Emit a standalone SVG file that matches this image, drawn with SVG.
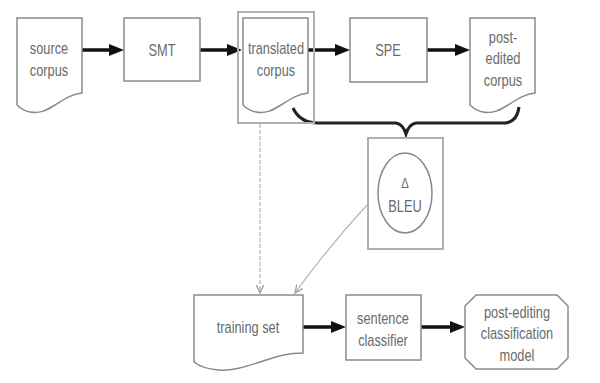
<svg xmlns="http://www.w3.org/2000/svg" width="600" height="383" viewBox="0 0 600 383">
<style>
.shape{fill:#fff;stroke:#8a8a8a;stroke-width:1.5}
.outer{fill:none;stroke:#b0b0b0;stroke-width:2}
.t{font-family:"Liberation Sans",Arial,sans-serif;font-size:16px;fill:#6a6a6a;text-anchor:middle}
.line{stroke:#111;stroke-width:3.5;fill:none}
.head{fill:#111}
.thin{stroke:#b5b5b5;stroke-width:1.2;fill:none;marker-end:url(#sh)}
.brace{stroke:#222;stroke-width:3;fill:none}
</style>
<defs>
<marker id="sh" viewBox="0 0 10 10" refX="9" refY="5" markerWidth="9" markerHeight="9" orient="auto" markerUnits="userSpaceOnUse">
<path d="M0,1 L9,5 L0,9" fill="none" stroke="#a0a0a0" stroke-width="1.5"/>
</marker>
</defs>
<rect width="600" height="383" fill="#fff"/>
<g id="connectors">
<line class="line" x1="81" y1="50" x2="112" y2="50"/>
<path class="head" d="M109,44 L124,50 L109,56 Z"/>
<line class="line" x1="200" y1="50" x2="230" y2="50"/>
<path class="head" d="M227,44 L242,50 L227,56 Z"/>
<line class="line" x1="308" y1="50" x2="338" y2="50"/>
<path class="head" d="M335,44 L350,50 L335,56 Z"/>
<line class="line" x1="427" y1="50" x2="458" y2="50"/>
<path class="head" d="M455,44 L470,50 L455,56 Z"/>
<line class="line" x1="303" y1="327" x2="334" y2="327"/>
<path class="head" d="M331,321 L346,327 L331,333 Z"/>
<line class="line" x1="421" y1="327" x2="453" y2="327"/>
<path class="head" d="M450,321 L465,327 L450,333 Z"/>
<line class="thin" x1="260" y1="124" x2="260" y2="293" stroke-dasharray="4,2"/>
<path class="thin" d="M367,205 Q330,245 295,293"/>
<path class="brace" d="M293,108 Q300,123 318,123 L396,123 Q403,124 406,134 Q409,124 416,123 L505,123 Q517,122 519,107"/>
</g>
<g id="source-corpus">
<path class="shape" d="M17,18 H82 V93 C72,94 66,98 55,105 C47,110 40,114 30,112 C24,111 20,108 17,105 Z"/>
<text class="t" transform="translate(49 54) scale(0.8 1)">source</text>
<text class="t" transform="translate(49 76) scale(0.8 1)">corpus</text>
</g>
<g id="smt">
<rect class="shape" x="124" y="18" width="76" height="63"/>
<text class="t" transform="translate(162 56) scale(0.8 1)">SMT</text>
</g>
<g id="translated-corpus">
<rect class="outer" x="238" y="12" width="76" height="111"/>
<path class="shape" d="M243,18 H308 V93 C298,94 292,98 281,105 C273,110 266,114 256,112 C250,111 246,108 243,105 Z"/>
<text class="t" transform="translate(276 54) scale(0.8 1)">translated</text>
<text class="t" transform="translate(276 76) scale(0.8 1)">corpus</text>
</g>
<g id="spe">
<rect class="shape" x="350" y="18" width="77" height="64"/>
<text class="t" transform="translate(388 56) scale(0.8 1)">SPE</text>
</g>
<g id="post-edited-corpus">
<path class="shape" d="M470,18 H535 V93 C525,94 519,98 508,105 C500,110 493,114 483,112 C477,111 473,108 470,105 Z"/>
<text class="t" transform="translate(503 43) scale(0.8 1)">post-</text>
<text class="t" transform="translate(503 64) scale(0.8 1)">edited</text>
<text class="t" transform="translate(503 86) scale(0.8 1)">corpus</text>
</g>
<g id="delta-bleu">
<rect class="outer" x="368" y="138" width="75" height="111"/>
<ellipse class="shape" cx="405" cy="193" rx="27" ry="40"/>
<text class="t" transform="translate(405 188) scale(0.8 1)" style="font-size:14px">Δ</text>
<text class="t" transform="translate(405 212) scale(0.8 1)">BLEU</text>
</g>
<g id="training-set">
<path class="shape" d="M194,295 H303 V353 C288,353 278,356 260,362 C245,367 232,371 218,370 C207,369 199,366 194,362 Z"/>
<text class="t" transform="translate(248 333) scale(0.8 1)">training set</text>
</g>
<g id="sentence-classifier">
<rect class="shape" x="346" y="295" width="75" height="65"/>
<text class="t" transform="translate(383 324) scale(0.8 1)">sentence</text>
<text class="t" transform="translate(383 346) scale(0.8 1)">classifier</text>
</g>
<g id="classification-model">
<path class="shape" d="M476,295 H557 L568,306 V358 L557,369 H476 L465,358 V306 Z"/>
<text class="t" transform="translate(517 318) scale(0.8 1)">post-editing</text>
<text class="t" transform="translate(517 339) scale(0.8 1)">classification</text>
<text class="t" transform="translate(517 361) scale(0.8 1)">model</text>
</g>
</svg>
